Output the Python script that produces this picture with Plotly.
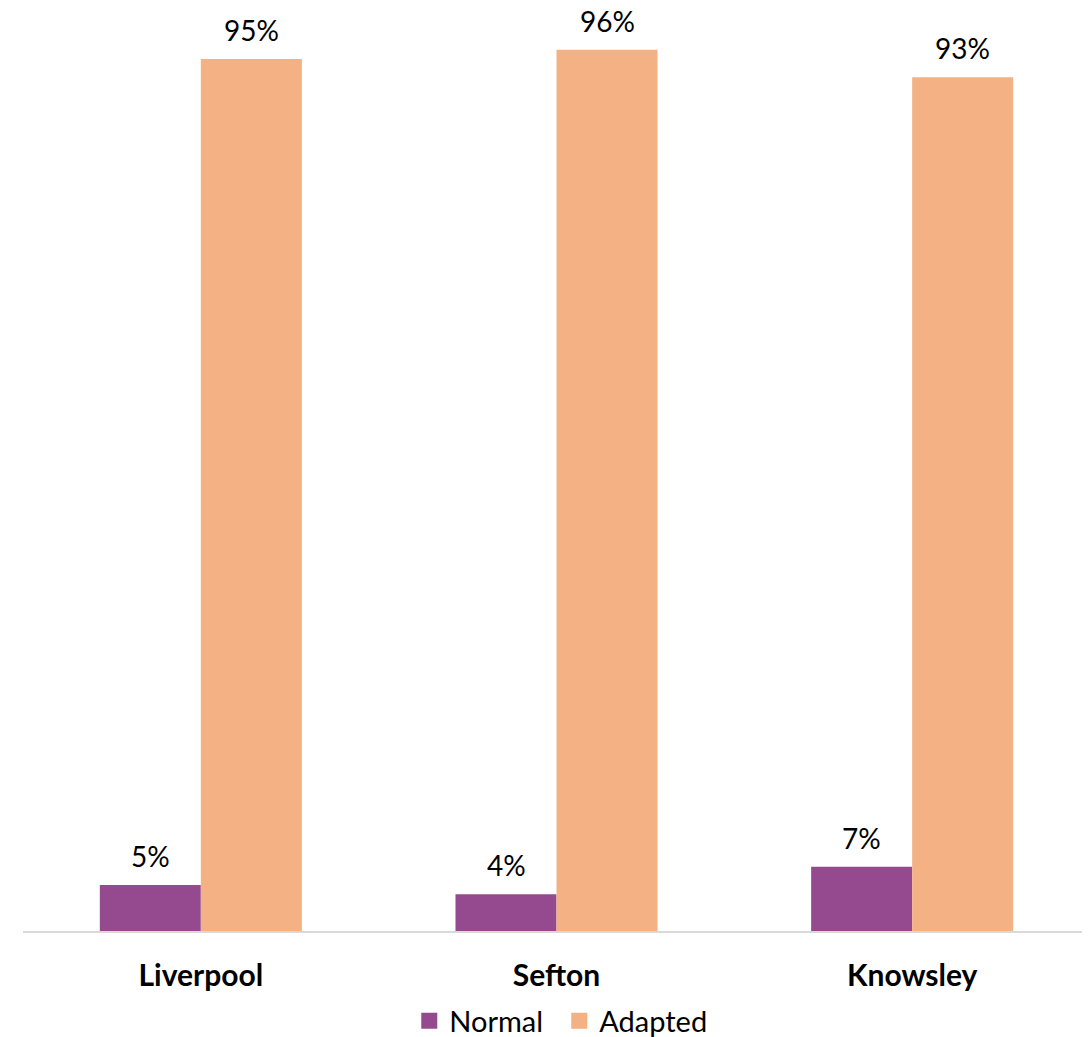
import plotly.graph_objects as go

categories = ["Liverpool", "Sefton", "Knowsley"]
series_names = ["Normal", "Adapted"]
normal = [5, 4, 7]
adapted = [95, 96, 93]
colors = ["#954A8F", "#F4B183"]

fig = go.Figure()
for i, (name, vals, col) in enumerate(zip(series_names, [normal, adapted], colors)):
    fig.add_trace(go.Bar(
        name=name, x=categories, y=vals,
        marker=dict(color=col, line=dict(width=0)),
        showlegend=False, hoverinfo="x+y",
    ))
    # legend proxy with larger square swatch
    fig.add_trace(go.Scatter(
        name=name, x=[None], y=[None], mode="markers",
        marker=dict(symbol="square", size=19, color=col),
        showlegend=True,
        legendwidth=105 if i == 0 else None,
    ))

# value labels above the bars
for vals, shift in [(normal, -50.5), (adapted, 50.5)]:
    for c, v in zip(categories, vals):
        fig.add_annotation(
            x=c, y=v, xref="x", yref="y", text=f"{v}%", showarrow=False,
            xshift=shift, yshift=29, yanchor="middle",
            font=dict(size=28, color="#000000"),
        )

fig.update_layout(
    width=1090, height=1037,
    margin=dict(l=15, r=8, t=5, b=114, autoexpand=False),
    paper_bgcolor="white", plot_bgcolor="white",
    font=dict(family="Lato, Open Sans, sans-serif", color="#000000"),
    barmode="group", bargap=0.432, bargroupgap=0,
    showlegend=True,
    legend=dict(orientation="h", x=0.504, xanchor="center", y=-0.098, yanchor="middle",
                font=dict(size=29), traceorder="normal", itemwidth=30),
    xaxis=dict(showline=True, linecolor="#D9D9D9", linewidth=2, ticks="",
               tickfont=dict(size=30, color="#000000", weight="bold"),
               ticklabelstandoff=17, showgrid=False, automargin=False),
    yaxis=dict(range=[0, 100], visible=False, showgrid=False, automargin=False),
)

fig.write_html("out.html")
